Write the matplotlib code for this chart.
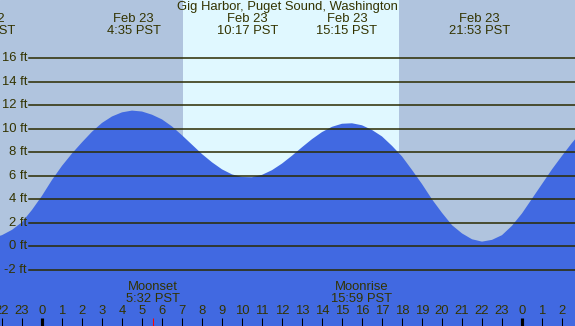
import numpy as np
import matplotlib
matplotlib.use('Agg')
import matplotlib.pyplot as plt
import matplotlib.transforms as mtransforms

plt.rcParams['font.family'] = ['Liberation Sans', 'DejaVu Sans']

# tide height (ft), hours relative to Feb 23 00:00 PST
tide_hours = [-2.1, -2.0, -1.5, -1.0, -0.5, 0.0, 0.5, 1.0, 1.5, 2.0, 2.5, 3.0, 3.5,
              4.0, 4.5, 5.0, 5.5, 6.0, 6.5, 7.0, 7.5, 8.0, 8.5, 9.0, 9.5, 10.0,
              10.5, 11.0, 11.5, 12.0, 12.5, 13.0, 13.5, 14.0, 14.5, 15.0, 15.5,
              16.0, 16.5, 17.0, 17.5, 18.0, 18.5, 19.0, 19.5, 20.0, 20.5, 21.0,
              21.5, 22.0, 22.5, 23.0, 23.5, 24.0, 24.5, 25.0, 25.5, 26.0, 26.5, 26.65]
tide_ft = [0.9, 0.95, 1.4, 2.05, 3.1, 4.3, 5.65, 6.85, 7.9, 8.85, 9.75, 10.5, 11.05,
           11.4, 11.55, 11.47, 11.2, 10.8, 10.2, 9.45, 8.65, 7.85, 7.15, 6.55, 6.12, 5.9,
           5.88, 6.08, 6.48, 7.04, 7.71, 8.43, 9.12, 9.72, 10.17, 10.43, 10.47,
           10.3, 9.9, 9.35, 8.55, 7.65, 6.5, 5.3, 4.0, 2.85, 1.8, 1.1,
           0.6, 0.4, 0.55, 0.95, 1.75, 2.8, 4.05, 5.3, 6.55, 7.7, 8.8, 9.1]

# high / low tide labels
extreme_hours = [-2.88, 4.583, 10.283, 15.25, 21.883]
extreme_dates = ['Feb 22', 'Feb 23', 'Feb 23', 'Feb 23', 'Feb 23']
extreme_times = ['21:07 PST', '4:35 PST', '10:17 PST', '15:15 PST', '21:53 PST']

# moon events
moon_names = ['Moonset', 'Moonrise']
moon_hours = [5.533, 15.983]
moon_times = ['5:32 PST', '15:59 PST']

sunrise, sunset = 7.05, 17.85
ft_levels = [-2, 0, 2, 4, 6, 8, 10, 12, 14, 16]
tick_hours = list(range(-2, 27))

title = 'Gig Harbor, Puget Sound, Washington'

W, H = 575, 326
x0, x1 = -2.1, 26.65
y_top, y_bot = 20.96, -6.78
txt = '#333300'
fs = 9.4

fig = plt.figure(figsize=(W / 100, H / 100), dpi=100)
ax = fig.add_axes([0, 0, 1, 1])
ax.set_xlim(x0, x1)
ax.set_ylim(y_bot, y_top)
ax.axis('off')
ax.add_patch(plt.Rectangle((0, 0), 1, 1, transform=ax.transAxes, color='#b0c4de', zorder=0))
ax.axvspan(sunrise, sunset, color='#e0f8ff', zorder=1, lw=0)

ax.fill_between(tide_hours, tide_ft, y_bot, color='#4169e1', lw=0, zorder=2)

# ft grid + labels
for lv in ft_levels:
    ax.axhline(lv, xmin=29 / W, xmax=1, color='#2b2b00', lw=1.1, zorder=3)
    ax.text(27 / W, lv, f'{lv} ft', transform=mtransforms.blended_transform_factory(ax.transAxes, ax.transData),
            ha='right', va='center', fontsize=fs, color=txt, zorder=4)

fy = lambda p: 1 - p / H
bt = mtransforms.blended_transform_factory(ax.transData, ax.transAxes)

ax.text(0.5, fy(7), title, transform=ax.transAxes, ha='center', va='center', fontsize=fs, color=txt, zorder=4)
for h, d, t in zip(extreme_hours, extreme_dates, extreme_times):
    ax.text(h, fy(19.5), d, transform=bt, ha='center', va='center', fontsize=fs, color=txt, zorder=4)
    ax.text(h, fy(31.5), t, transform=bt, ha='center', va='center', fontsize=fs, color=txt, zorder=4)

for h, n, t in zip(moon_hours, moon_names, moon_times):
    ax.text(h, fy(287), n, transform=bt, ha='center', va='center', fontsize=fs, color=txt, zorder=4)
    ax.text(h, fy(299), t, transform=bt, ha='center', va='center', fontsize=fs, color=txt, zorder=4)
    ax.plot([h, h], [0, 8 / H], transform=bt, color='red', lw=0.75, zorder=4, solid_capstyle='butt')

# hour ticks, midnight thicker
for h in tick_hours:
    ax.text(h, fy(311.5), str(h % 24), transform=bt, ha='center', va='center', fontsize=fs, color=txt, zorder=4)
    lw = 3 if h % 24 == 0 else 1
    ax.plot([h, h], [0, 8 / H], transform=bt, color='black', lw=lw * 0.75, zorder=4, solid_capstyle='butt')

fig.savefig('out.png', dpi=100)
